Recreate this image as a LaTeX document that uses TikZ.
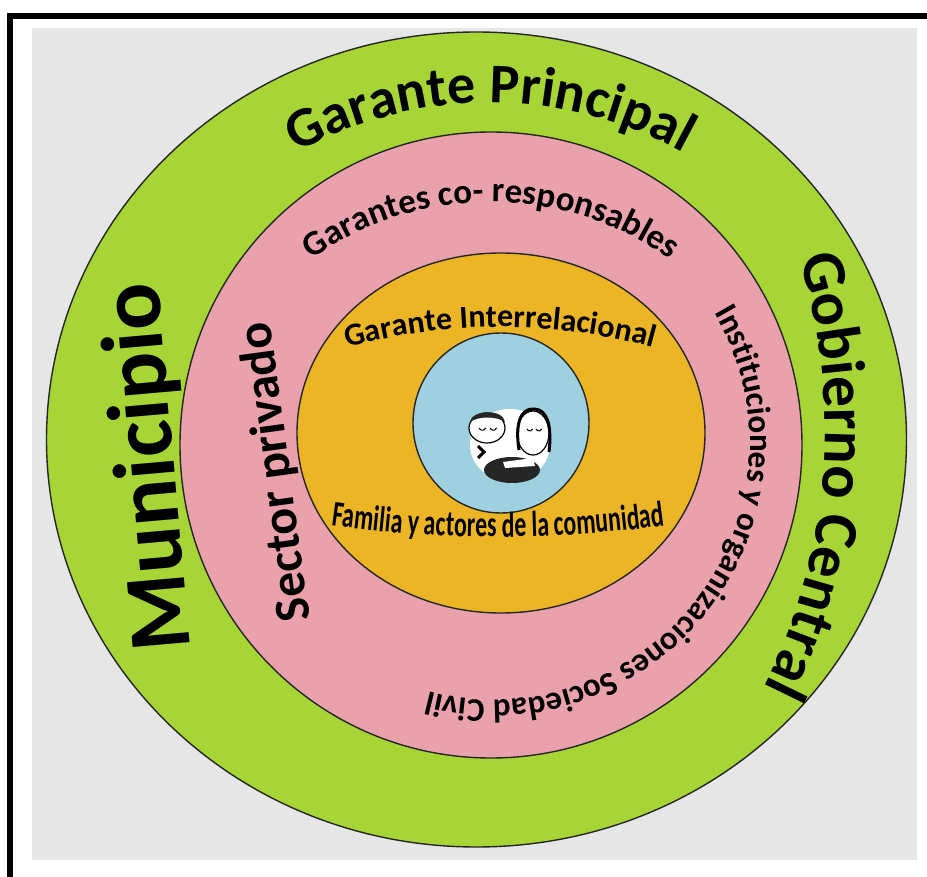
\documentclass[tikz,border=0pt]{standalone}
\usepackage{fontspec}
\setmainfont{Carlito}
\newfontfamily\narrowfont[FakeStretch=0.66]{Carlito}
\usetikzlibrary{positioning, decorations.text}
\definecolor{paper}{HTML}{E6E6E6}
\definecolor{ringgreen}{HTML}{A6D535}
\definecolor{ringpink}{HTML}{E9A2AB}
\definecolor{ringorange}{HTML}{ECB526}
\definecolor{ringblue}{HTML}{9FD0DF}
\tikzset{
  ring/.style={draw=black!85, line width=1.4pt},
  curved/.style={decorate, decoration={text along path, text align=center, text={#1}}},
  sideword/.style={inner sep=0pt, anchor=base, font=\bfseries},
  face/.style={fill=white, draw=black, line width=1.2pt},
}

\begin{document}
\begin{tikzpicture}[x=1pt, y=1pt]
  \useasboundingbox (0,0) rectangle (927,-877);

  % frame and paper
  \fill[paper] (32,-28) rectangle (917,-860);
  \draw[line width=6pt] (10.3,-877) -- (10.3,-15.7) -- (927,-15.7);

  % rings
  \coordinate (cg) at (476.5,-439.5);
  \coordinate (cp) at (491,-445);
  \coordinate (co) at (501,-433);
  \coordinate (cb) at (501,-423);
  \filldraw[ring, fill=ringgreen] (cg) ellipse[x radius=430, y radius=407.5];
  \filldraw[ring, fill=ringpink] (cp) ellipse[x radius=311, y radius=313];
  \filldraw[ring, fill=ringorange] (co) ellipse[x radius=204, y radius=180];
  \filldraw[ring, fill=ringblue] (cb) ellipse[x radius=88, y radius=90];

  % family in the middle
  \fill[white] (510,-445) ellipse[x radius=40, y radius=36];
  \fill[black!85] (512,-470) ellipse[x radius=28, y radius=13];
  \filldraw[face] (533,-433) ellipse[x radius=16, y radius=22];
  \draw[line width=3pt] (519,-450) .. controls (515,-425) and (520,-408) .. (534,-409)
    .. controls (548,-409) and (552,-428) .. (549,-452);
  \filldraw[face] (487,-428) ellipse[x radius=18, y radius=15];
  \fill[black!85] (470,-422) .. controls (471,-410) and (503,-408) .. (505,-422)
    .. controls (497,-416) and (478,-416) .. cycle;
  \fill[white] (503,-462) -- (533,-458) -- (535,-466) -- (505,-468) -- cycle;
  \draw[line width=1pt] (479,-428) arc[start angle=200, end angle=340, radius=3.5]
    (490,-428) arc[start angle=200, end angle=340, radius=3.5];
  \draw[line width=1pt] (527,-429) arc[start angle=200, end angle=340, radius=3]
    (536,-429) arc[start angle=200, end angle=340, radius=3];
  \draw[line width=3pt] (478,-446) -- (484,-452) -- (478,-458);

  % outer ring
  \path[curved={|\bfseries\fontsize{56}{60}\selectfont|Garante Principal}]
    (490,-503) ++(150:400) arc[start angle=150, end angle=30, radius=400];
  \path[curved={|\bfseries\fontsize{62}{66}\selectfont|Gobierno Central}]
    (250,-430) ++(25.3:575) arc[start angle=25.3, end angle=-34.7, radius=575];
  \node[sideword, rotate=95, font=\bfseries\fontsize{88}{92}\selectfont] (municipio) at (174,-465) {Municipio};

  % middle ring
  \path[curved={|\bfseries\fontsize{35}{38}\selectfont|Garantes co- responsables}]
    (491,-511) ++(145:309) arc[start angle=145, end angle=35, radius=309];
  \path[curved={|\bfseries\fontsize{33}{36}\selectfont|Instituciones y organizaciones Sociedad Civil}]
    (493,-443) ++(38:257) arc[start angle=38, end angle=-112, radius=257];
  \node[sideword, rotate=97.7, font=\bfseries\fontsize{50}{54}\selectfont] (privado) at (290,-470) {Sector privado};

  % inner ring
  \path[curved={|\bfseries\fontsize{32}{36}\selectfont|Garante Interrelacional}]
    (500,-904) ++(110:577) arc[start angle=110, end angle=70, radius=577];
  \path[curved={|\narrowfont\bfseries\fontsize{36}{40}\selectfont|Familia y actores de la comunidad}]
    (498,673) ++(258:1210) arc[start angle=258, end angle=282, radius=1210];

\end{tikzpicture}
\end{document}
